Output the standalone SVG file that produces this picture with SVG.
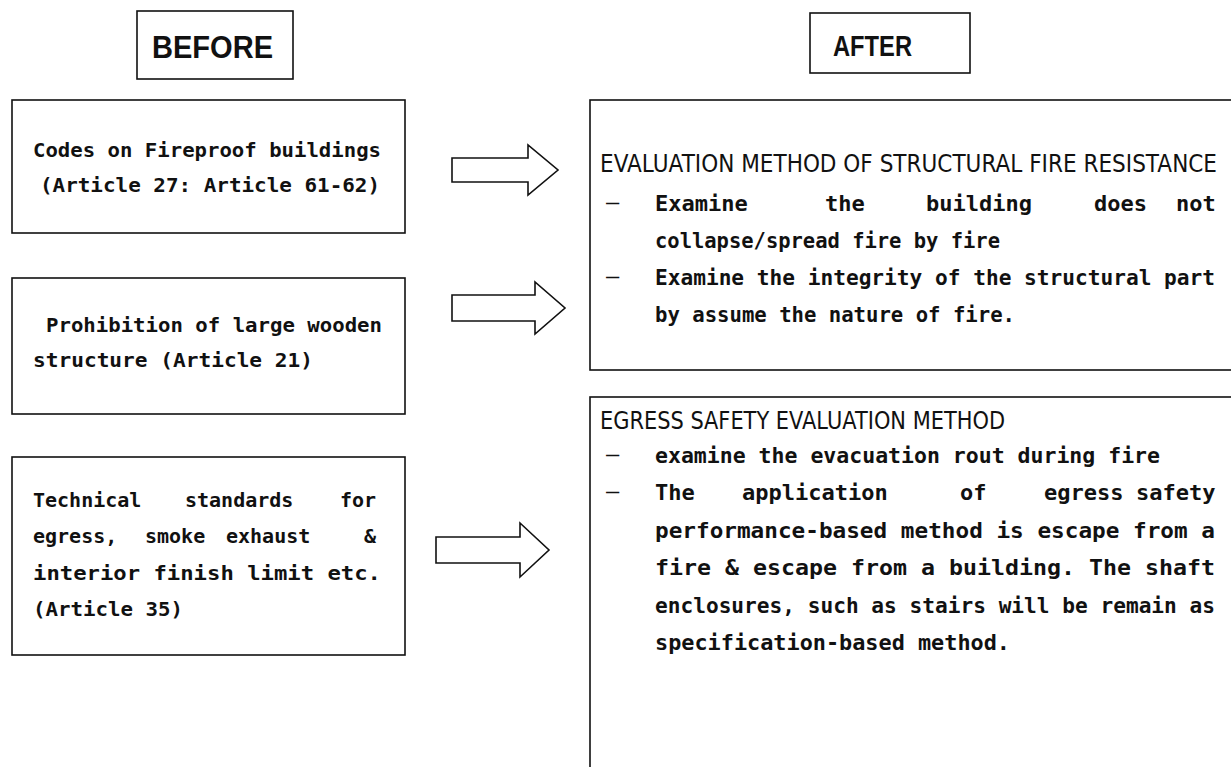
<svg xmlns="http://www.w3.org/2000/svg" width="1231" height="767" viewBox="0 0 1231 767">
<style>
.box{fill:#fff;stroke:#111;stroke-width:1.6}
.arr{fill:#fff;stroke:#111;stroke-width:1.6;stroke-linejoin:miter}
.t{font-family:"DejaVu Sans Mono",monospace;font-weight:bold;fill:#111;font-size:20px}
.r{font-family:"DejaVu Sans Mono",monospace;font-weight:bold;fill:#111;font-size:22px}
.d{font-family:"DejaVu Sans Mono",monospace;fill:#111;font-size:22px}
.h{font-family:"DejaVu Sans","Liberation Sans",sans-serif;fill:#111;font-size:24px}
.lab{font-family:"Liberation Sans","DejaVu Sans",sans-serif;font-weight:bold;fill:#111}
</style>
<rect width="1231" height="767" fill="#fff"/>
<g id="before">
<rect class="box" x="137" y="11" width="156" height="68"/>
<text class="lab" x="152" y="58" font-size="32" textLength="121" lengthAdjust="spacingAndGlyphs">BEFORE</text>
</g>
<g id="after">
<rect class="box" x="810" y="13" width="160" height="60"/>
<text class="lab" x="833" y="56" font-size="30" textLength="79" lengthAdjust="spacingAndGlyphs">AFTER</text>
</g>
<g id="codes">
<rect class="box" x="12" y="100" width="393" height="133"/>
<text class="t" x="33" y="157" textLength="348" lengthAdjust="spacingAndGlyphs">Codes on Fireproof buildings</text>
<text class="t" x="40" y="192" textLength="340" lengthAdjust="spacingAndGlyphs">(Article 27: Article 61-62)</text>
</g>
<g id="prohibition">
<rect class="box" x="12" y="278" width="393" height="136"/>
<text class="t" x="46" y="332" textLength="336" lengthAdjust="spacingAndGlyphs">Prohibition of large wooden</text>
<text class="t" x="33" y="367" textLength="280" lengthAdjust="spacingAndGlyphs">structure (Article 21)</text>
</g>
<g id="technical">
<rect class="box" x="12" y="457" width="393" height="198"/>
<text class="t" x="33" y="507">Technical</text>
<text class="t" x="185" y="507">standards</text>
<text class="t" x="340" y="507">for</text>
<text class="t" x="33" y="543">egress,</text>
<text class="t" x="145" y="543">smoke</text>
<text class="t" x="226" y="543">exhaust</text>
<text class="t" x="364" y="543">&amp;</text>
<text class="t" x="33" y="580" textLength="348" lengthAdjust="spacingAndGlyphs">interior finish limit etc.</text>
<text class="t" x="33" y="616" textLength="150" lengthAdjust="spacingAndGlyphs">(Article 35)</text>
</g>
<g id="structural">
<rect class="box" x="590" y="100" width="660" height="270"/>
<text class="h" x="600" y="172" textLength="617" lengthAdjust="spacingAndGlyphs">EVALUATION METHOD OF STRUCTURAL FIRE RESISTANCE</text>
<text class="d" x="606" y="209">—</text>
<text class="r" x="655" y="211">Examine</text>
<text class="r" x="825" y="211">the</text>
<text class="r" x="926" y="211">building</text>
<text class="r" x="1094" y="211">does</text>
<text class="r" x="1176" y="211">not</text>
<text class="r" x="655" y="248" textLength="345" lengthAdjust="spacingAndGlyphs">collapse/spread fire by fire</text>
<text class="d" x="606" y="283">—</text>
<text class="r" x="655" y="285" textLength="560" lengthAdjust="spacingAndGlyphs">Examine the integrity of the structural part</text>
<text class="r" x="655" y="322" textLength="360" lengthAdjust="spacingAndGlyphs">by assume the nature of fire.</text>
</g>
<g id="egress">
<rect class="box" x="590" y="397" width="660" height="400"/>
<text class="h" x="600" y="429" textLength="405" lengthAdjust="spacingAndGlyphs">EGRESS SAFETY EVALUATION METHOD</text>
<text class="d" x="606" y="461">—</text>
<text class="r" x="655" y="463" textLength="505" lengthAdjust="spacingAndGlyphs">examine the evacuation rout during fire</text>
<text class="d" x="606" y="498">—</text>
<text class="r" x="655" y="500">The</text>
<text class="r" x="742" y="500">application</text>
<text class="r" x="960" y="500">of</text>
<text class="r" x="1044" y="500">egress</text>
<text class="r" x="1136" y="500">safety</text>
<text class="r" x="655" y="538" textLength="560" lengthAdjust="spacingAndGlyphs">performance-based method is escape from a</text>
<text class="r" x="655" y="575" textLength="560" lengthAdjust="spacingAndGlyphs">fire &amp; escape from a building. The shaft</text>
<text class="r" x="655" y="613" textLength="560" lengthAdjust="spacingAndGlyphs">enclosures, such as stairs will be remain as</text>
<text class="r" x="655" y="650" textLength="355" lengthAdjust="spacingAndGlyphs">specification-based method.</text>
</g>
<g id="connectors">
<polygon class="arr" points="452,158 528,158 528,145 558,170 528,195 528,182 452,182"/>
<polygon class="arr" points="452,295 535,295 535,282 565,308 535,334 535,321 452,321"/>
<polygon class="arr" points="436,537 520,537 520,523 549,550 520,577 520,563 436,563"/>
</g>
</svg>
